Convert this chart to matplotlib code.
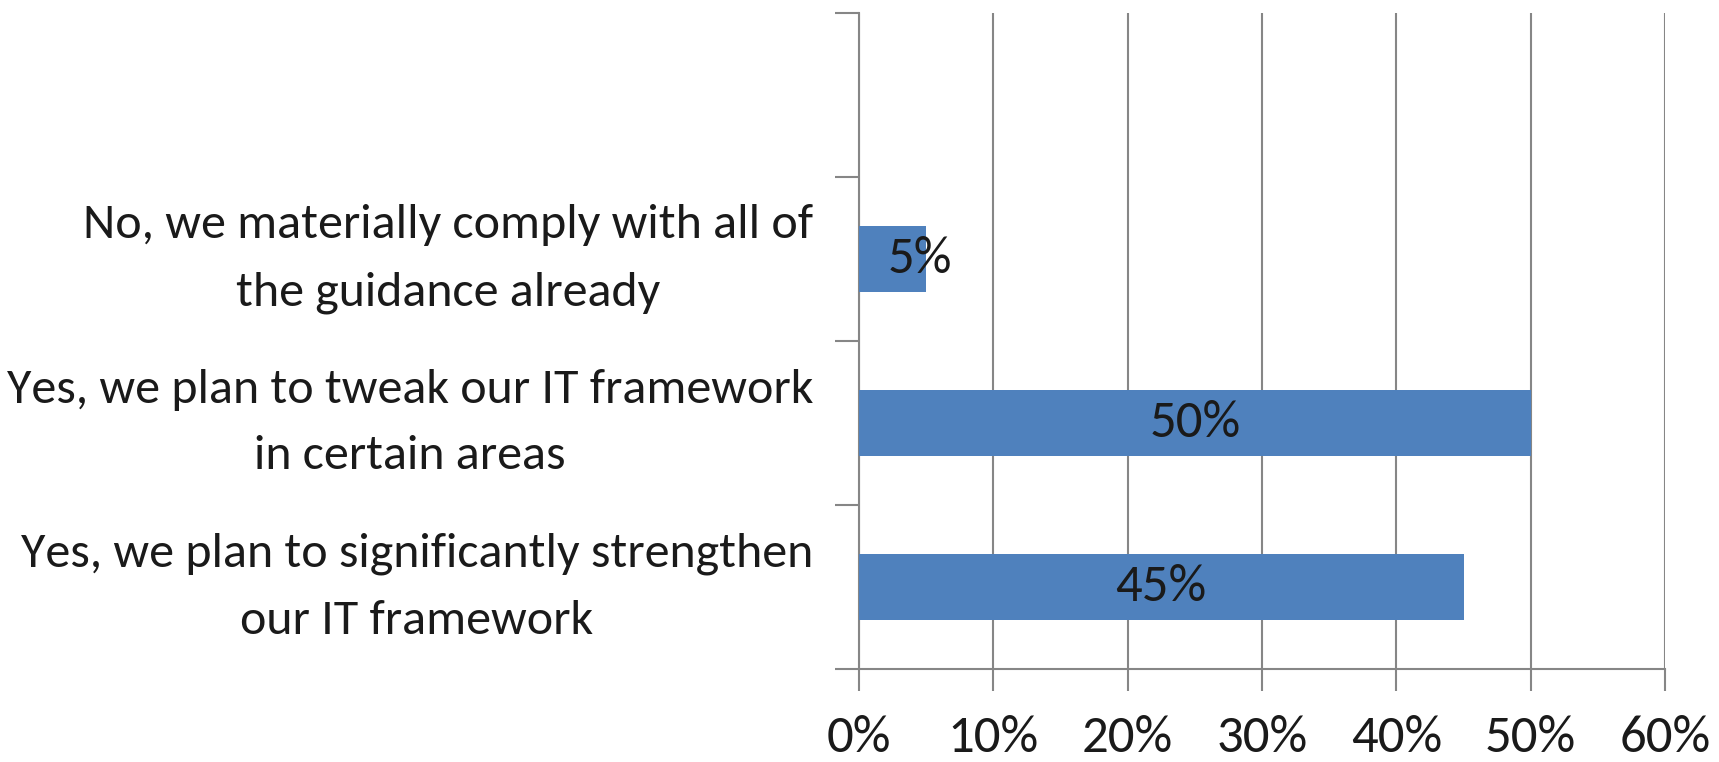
import matplotlib.pyplot as plt
from matplotlib.ticker import FixedLocator, PercentFormatter

# categories top to bottom (top slot is empty in the original)
categories = [
    "",
    "No, we materially comply with all of\nthe guidance already",
    "Yes, we plan to tweak our IT framework\nin certain areas",
    "Yes, we plan to significantly strengthen\nour IT framework",
]
values = [None, 5, 50, 45]
x_ticks = [0, 10, 20, 30, 40, 50, 60]

bar_color = "#4F81BD"
axis_color = "#868686"
text_color = "#1a1a1a"

plt.rcParams["font.family"] = ["Carlito", "PT Sans Narrow", "IBM Plex Sans Condensed", "DejaVu Sans"]

fig = plt.figure(figsize=(17.19, 7.62), dpi=100)
ax = fig.add_axes([0.4997, 0.122, 0.9686 - 0.4997, 0.983 - 0.122])

ypos = list(range(len(categories)))
for y, v in zip(ypos, values):
    if v is None:
        continue
    ax.barh(y, v, height=0.4, color=bar_color, zorder=3)
    lx = v / 2 if v >= 10 else v * 0.91
    ax.text(lx, y, f"{v}%", ha="center", va="center", fontsize=38,
            color=text_color, zorder=4)

ax.set_xlim(0, 60)
ax.set_ylim(len(categories) - 0.5, -0.5)

ax.set_xticks(x_ticks)
ax.xaxis.set_major_formatter(PercentFormatter(decimals=0))
ax.tick_params(axis="x", direction="out", length=16, width=1.5,
               color=axis_color, labelsize=38, pad=17, labelcolor=text_color)

# category boundaries get tick marks, labels sit at the centres
ax.yaxis.set_major_locator(FixedLocator([i - 0.5 for i in range(len(categories) + 1)]))
ax.yaxis.set_major_formatter(plt.NullFormatter())
ax.set_yticks(ypos, minor=True)
ax.set_yticklabels(categories, minor=True, multialignment="center",
                   linespacing=1.73, va="center")
ax.tick_params(axis="y", which="major", direction="out", length=17,
               width=1.5, color=axis_color)
ax.tick_params(axis="y", which="minor", length=0, labelsize=36, pad=33,
               labelcolor=text_color)

ax.grid(axis="x", color=axis_color, linewidth=1.5, zorder=0)
for side in ["top", "right"]:
    ax.spines[side].set_visible(False)
for side in ["left", "bottom"]:
    ax.spines[side].set_color(axis_color)
    ax.spines[side].set_linewidth(1.5)

fig.savefig("out.png", dpi=100)
